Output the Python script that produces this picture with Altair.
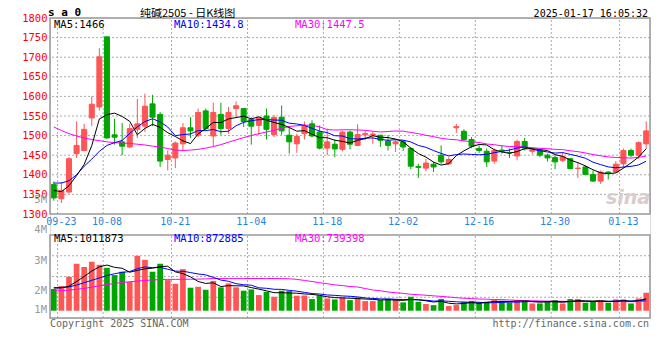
import altair as alt
import pandas as pd

# ---------------- data ----------------
dates = ["09-20", "09-23", "09-24", "09-25", "09-26", "09-27", "09-30",
         "10-08", "10-09", "10-10", "10-11", "10-14", "10-15", "10-16", "10-17", "10-18",
         "10-21", "10-22", "10-23", "10-24", "10-25", "10-28", "10-29", "10-30", "10-31",
         "11-01", "11-04", "11-05", "11-06", "11-07", "11-08", "11-11", "11-12", "11-13",
         "11-14", "11-15", "11-18", "11-19", "11-20", "11-21", "11-22", "11-25", "11-26",
         "11-27", "11-28", "11-29", "12-02", "12-03", "12-04", "12-05", "12-06", "12-09",
         "12-10", "12-11", "12-12", "12-13", "12-16", "12-17", "12-18", "12-19", "12-20",
         "12-23", "12-24", "12-25", "12-26", "12-27", "12-30", "12-31", "01-02", "01-03",
         "01-06", "01-07", "01-08", "01-09", "01-10", "01-13", "01-14", "01-15", "01-16"]

opens = [1375, 1339, 1356, 1454, 1462, 1545, 1573, 1752, 1502, 1484,
         1471, 1516, 1524, 1581, 1554, 1439, 1443, 1479, 1520, 1501,
         1563, 1499, 1554, 1518, 1569, 1569, 1541, 1526, 1550, 1503,
         1547, 1501, 1479, 1505, 1530, 1509, 1468, 1478, 1465, 1509,
         1475, 1502, 1501, 1501, 1486, 1479, 1484, 1467, 1421, 1417,
         1427, 1450, 1428, 1520, 1511, 1490, 1467, 1460, 1435, 1463,
         1457, 1448, 1485, 1460, 1462, 1450, 1444, 1437, 1441, 1416,
         1420, 1401, 1384, 1407, 1407, 1428, 1462, 1450, 1479]
closes = [1341, 1360, 1441, 1475, 1516, 1580, 1701, 1494, 1496, 1473,
          1518, 1530, 1575, 1547, 1435, 1450, 1481, 1520, 1512, 1559,
          1518, 1559, 1518, 1559, 1576, 1536, 1524, 1545, 1516, 1546,
          1512, 1484, 1498, 1524, 1499, 1468, 1484, 1466, 1509, 1478,
          1503, 1505, 1504, 1488, 1475, 1484, 1471, 1422, 1419, 1430,
          1420, 1433, 1439, 1523, 1490, 1473, 1462, 1433, 1462, 1461,
          1456, 1485, 1468, 1463, 1450, 1443, 1433, 1446, 1416, 1417,
          1401, 1384, 1407, 1405, 1427, 1462, 1450, 1482, 1512]
highs = [1383, 1382, 1445, 1536, 1530, 1600, 1723, 1753, 1543, 1532,
         1530, 1594, 1607, 1604, 1560, 1462, 1485, 1532, 1547, 1569,
         1569, 1584, 1584, 1573, 1587, 1569, 1547, 1547, 1569, 1552,
         1577, 1524, 1505, 1536, 1539, 1526, 1518, 1490, 1513, 1513,
         1529, 1513, 1511, 1502, 1501, 1490, 1488, 1471, 1428, 1441,
         1433, 1475, 1445, 1530, 1516, 1496, 1475, 1467, 1467, 1475,
         1467, 1490, 1494, 1470, 1467, 1454, 1450, 1458, 1443, 1433,
         1424, 1411, 1411, 1409, 1435, 1467, 1467, 1485, 1536]
lows = [1334, 1328, 1352, 1443, 1460, 1524, 1564, 1492, 1477, 1450,
        1468, 1494, 1509, 1524, 1420, 1411, 1417, 1462, 1494, 1496,
        1513, 1473, 1502, 1505, 1547, 1522, 1477, 1501, 1490, 1496,
        1502, 1454, 1456, 1490, 1496, 1465, 1450, 1445, 1460, 1465,
        1473, 1488, 1479, 1471, 1462, 1458, 1461, 1414, 1392, 1409,
        1407, 1428, 1426, 1507, 1485, 1468, 1456, 1420, 1428, 1454,
        1443, 1437, 1462, 1452, 1445, 1434, 1414, 1433, 1414, 1392,
        1399, 1382, 1377, 1388, 1405, 1417, 1445, 1441, 1467]

ma5 = [1360, 1357, 1372, 1398,
       1426.6, 1474.4, 1542.6, 1553.2, 1557.4, 1548.8, 1536.4, 1502.2, 1518.4, 1528.6,
       1521.0, 1507.4, 1497.6, 1486.6, 1479.6, 1504.4, 1518.0, 1533.6, 1533.2, 1542.6,
       1546.0, 1549.6, 1542.6, 1548.0, 1539.4, 1533.4, 1528.6, 1520.6, 1511.2, 1512.8,
       1503.4, 1494.6, 1494.6, 1488.2, 1485.2, 1481.0, 1488.0, 1492.2, 1499.8, 1495.6,
       1495.0, 1491.2, 1484.4, 1468.0, 1454.2, 1445.2, 1432.4, 1424.8, 1428.2, 1449.0,
       1461.0, 1471.6, 1477.4, 1476.2, 1464.0, 1458.2, 1454.8, 1459.4, 1466.4, 1466.6,
       1464.4, 1461.8, 1451.4, 1447.0, 1437.6, 1431.0, 1422.6, 1412.8, 1405.0, 1402.8,
       1404.8, 1417.0, 1430.2, 1445.2, 1466.6]
ma10 = [1379, 1379, 1385, 1400, 1422, 1440, 1460, 1475, 1482,
        1487.7, 1505.4, 1522.4, 1535.8, 1543.0, 1534.9, 1521.9, 1499.9, 1502.5, 1504.1,
        1512.7, 1512.7, 1515.6, 1509.9, 1511.1, 1525.2, 1533.8, 1538.1, 1540.6, 1541.0,
        1539.7, 1539.1, 1531.6, 1529.6, 1526.1, 1518.4, 1511.6, 1507.6, 1499.7, 1499.0,
        1492.2, 1491.3, 1493.4, 1494.0, 1490.4, 1488.0, 1489.6, 1488.3, 1483.9, 1474.9,
        1470.1, 1461.8, 1454.6, 1448.1, 1451.6, 1453.1, 1452.0, 1451.1, 1452.2, 1456.5,
        1459.6, 1463.2, 1468.4, 1471.3, 1465.3, 1461.3, 1458.3, 1455.4, 1456.7, 1452.1,
        1447.7, 1442.2, 1432.1, 1426.0, 1420.2, 1417.9, 1419.8, 1421.5, 1425.1, 1434.7]
ma30 = [1522, 1513, 1505, 1499, 1494, 1490, 1487, 1484, 1482, 1481,
        1480, 1478, 1476, 1473, 1471, 1467, 1463, 1462, 1463, 1465,
        1468, 1472, 1477, 1483, 1489, 1495, 1500, 1505, 1509,
        1513.4, 1519.1, 1523.2, 1525.1, 1526.7, 1526.2, 1522.4, 1515.2, 1514.3, 1514.7,
        1514.9, 1514.4, 1513.5, 1511.2, 1509.2, 1510.5, 1511.7, 1511.3, 1508.1, 1505.0,
        1500.7, 1497.4, 1493.2, 1490.6, 1489.4, 1486.5, 1484.4, 1482.3, 1478.6, 1476.8,
        1474.0, 1472.1, 1472.1, 1471.1, 1469.1, 1467.5, 1466.6, 1464.9, 1464.3, 1461.2,
        1459.1, 1455.7, 1451.7, 1448.5, 1445.7, 1444.1, 1443.4, 1442.7, 1444.7, 1447.8]

# volume, millions of lots
vols = [1.82, 2.07, 2.85, 3.94, 3.66, 4.11, 3.85, 3.60, 2.99, 3.27,
        2.43, 4.61, 4.27, 3.27, 3.94, 2.57, 2.26, 3.49, 1.93, 2.01,
        1.76, 2.49, 1.96, 2.29, 1.96, 1.68, 1.79, 1.31, 1.59, 1.17,
        1.68, 1.65, 1.26, 1.28, 0.98, 1.28, 1.03, 0.95, 1.12, 0.89,
        1.12, 0.81, 0.81, 0.89, 0.98, 0.98, 0.70, 1.17, 0.75, 0.56,
        0.47, 0.98, 0.39, 0.47, 0.75, 0.81, 0.70, 0.75, 0.89, 0.81,
        0.70, 0.89, 0.81, 0.61, 0.61, 0.81, 0.89, 0.61, 0.98, 0.98,
        0.67, 0.81, 0.81, 0.67, 0.95, 0.95, 0.61, 1.03, 1.51]
vma5 = [1.90, 1.92, 2.05, 2.45,
        2.87, 3.33, 3.68, 3.83, 3.64, 3.56, 3.23, 3.38, 3.51, 3.57,
        3.70, 3.73, 3.26, 3.11, 2.84, 2.45, 2.29, 2.34, 2.03, 2.10,
        2.09, 2.08, 1.94, 1.81, 1.67, 1.51, 1.51, 1.48, 1.47, 1.41,
        1.37, 1.29, 1.17, 1.10, 1.07, 1.05, 1.02, 0.98, 0.95, 0.90,
        0.92, 0.89, 0.87, 0.94, 0.92, 0.83, 0.73, 0.79, 0.63, 0.57,
        0.61, 0.68, 0.62, 0.70, 0.78, 0.79, 0.77, 0.81, 0.82, 0.76,
        0.72, 0.75, 0.75, 0.71, 0.78, 0.85, 0.83, 0.81, 0.85, 0.79,
        0.78, 0.84, 0.80, 0.84, 1.01]
vma10 = [1.93, 1.94, 2.00, 2.15, 2.35, 2.55, 2.75, 2.95, 3.10,
         3.22, 3.28, 3.53, 3.67, 3.61, 3.63, 3.48, 3.32, 3.31, 3.20,
         3.08, 3.01, 2.80, 2.57, 2.47, 2.27, 2.18, 2.14, 1.92, 1.88,
         1.80, 1.79, 1.71, 1.64, 1.54, 1.44, 1.40, 1.32, 1.29, 1.24,
         1.21, 1.16, 1.07, 1.03, 0.99, 0.99, 0.96, 0.93, 0.95, 0.91,
         0.88, 0.81, 0.83, 0.79, 0.75, 0.72, 0.71, 0.71, 0.66, 0.68,
         0.70, 0.73, 0.72, 0.76, 0.77, 0.76, 0.76, 0.78, 0.76, 0.77,
         0.79, 0.79, 0.78, 0.78, 0.78, 0.82, 0.83, 0.80, 0.85, 0.90]
vma30 = [1.65, 1.69, 1.73, 1.80, 1.87, 1.98, 2.09, 2.19, 2.29, 2.36,
         2.43, 2.48, 2.54, 2.58, 2.61, 2.63, 2.63, 2.64, 2.64, 2.65,
         2.67, 2.70, 2.71, 2.71, 2.71, 2.71, 2.70, 2.70, 2.70,
         2.70, 2.69, 2.68, 2.63, 2.54, 2.45, 2.35, 2.26, 2.17, 2.11,
         2.03, 1.99, 1.86, 1.74, 1.67, 1.57, 1.51, 1.46, 1.38, 1.34,
         1.30, 1.25, 1.20, 1.15, 1.09, 1.05, 1.02, 0.98, 0.97, 0.94,
         0.93, 0.90, 0.87, 0.86, 0.84, 0.82, 0.81, 0.80, 0.79, 0.79,
         0.79, 0.77, 0.77, 0.77, 0.77, 0.77, 0.77, 0.76, 0.76, 0.78]

label_dates = ["09-23", "10-08", "10-21", "11-04", "11-18", "12-02", "12-16", "12-30", "01-13"]
price_ticks = [1300, 1350, 1400, 1450, 1500, 1550, 1600, 1650, 1700, 1750, 1800]
vol_labels = ["5M", "4M", "3M", "2M", "1M"]

for arr in (opens, closes, highs, lows, ma5, ma10, ma30, vols, vma5, vma10, vma30):
    assert len(arr) == len(dates), len(arr)

# ---------------- styling ----------------
RED = "#ff5555"
GREEN = "#00a600"
GRID = "#aaaaaa"
FRAME = "#999999"
MONO = "DejaVu Sans Mono"
W, H = 600, 300
P_LO, P_HI = 1300, 1800
V_LO, V_HI = -0.61, 6.35

df = pd.DataFrame({
    "date": dates, "open": opens, "close": closes, "high": highs, "low": lows,
    "ma5": ma5, "ma10": ma10, "ma30": ma30,
    "vol": vols, "vma5": vma5, "vma10": vma10, "vma30": vma30,
})
df["dir"] = ["up" if c >= o else "down" for o, c in zip(opens, closes)]
df["base"] = 0.0

XS = alt.Scale(domain=dates, paddingInner=0, paddingOuter=0)
XAXIS = alt.Axis(values=label_dates, bandPosition=0, labelColor="#1f86e0", labelFont=MONO,
                 labelFontSize=10, labelAngle=0, domain=False, ticks=False, tickSize=0,
                 grid=False, labelPadding=0, offset=-97, labelBaseline="middle",
                 labelFlush=False, labelOverlap=False, title=None)
X = alt.X("date:O", scale=XS, axis=XAXIS, title=None)
XG = alt.X("date:O", scale=XS, axis=XAXIS, title=None, bandPosition=0)

PY = alt.Scale(domain=[P_LO, P_HI], range=[196, 0], nice=False, zero=False)
PAXIS = alt.Axis(values=price_ticks, format="d", labelColor="#ff0000", labelFont=MONO,
                 labelFontSize=10.5, domain=False, ticks=False, tickSize=0, grid=False,
                 labelPadding=3, labelOverlap=False, labelBound=False, title=None)
VY = alt.Scale(domain=[V_LO, V_HI], range=[300, 217], nice=False, zero=False)

COLOR = alt.Color("dir:N", scale=alt.Scale(domain=["up", "down"], range=[RED, GREEN]), legend=None)

grid_rule = dict(color=GRID, strokeDash=[2, 2], strokeWidth=1)

# ---- price panel ----
p_hgrid = alt.Chart(pd.DataFrame({"p": price_ticks[1:-1]})).mark_rule(**grid_rule).encode(
    y=alt.Y("p:Q", scale=PY, axis=PAXIS))
p_vgrid = alt.Chart(pd.DataFrame({"date": label_dates, "lo": P_LO, "hi": P_HI})).mark_rule(**grid_rule).encode(
    x=XG, y=alt.Y("lo:Q", scale=PY, axis=PAXIS), y2="hi:Q")
wicks = alt.Chart(df).mark_rule(strokeWidth=1).encode(
    x=X, y=alt.Y("low:Q", scale=PY, axis=PAXIS), y2="high:Q", color=COLOR)
bodies = alt.Chart(df).mark_bar(width=alt.RelativeBandSize(0.66), strokeWidth=1).encode(
    x=X, y=alt.Y("open:Q", scale=PY, axis=PAXIS), y2="close:Q", color=COLOR, stroke=COLOR)
l5 = alt.Chart(df).mark_line(color="#000000", strokeWidth=1).encode(
    x=X, y=alt.Y("ma5:Q", scale=PY, axis=PAXIS))
l10 = alt.Chart(df).mark_line(color="#0000ff", strokeWidth=1).encode(
    x=X, y=alt.Y("ma10:Q", scale=PY, axis=PAXIS))
l30 = alt.Chart(df).mark_line(color="#ff00ff", strokeWidth=1).encode(
    x=X, y=alt.Y("ma30:Q", scale=PY, axis=PAXIS))
p_frame = alt.Chart(pd.DataFrame({"lo": [P_LO], "hi": [P_HI]})).mark_rect(
    fillOpacity=0, stroke=FRAME, strokeWidth=1.5).encode(
    x=alt.value(0), x2=alt.value(W), y=alt.Y("lo:Q", scale=PY, axis=PAXIS), y2="hi:Q")
price = alt.layer(p_hgrid, p_vgrid, wicks, bodies, l30, l10, l5, p_frame)

# ---- volume panel ----
vgrid_vals = [V_LO + (V_HI - V_LO) * k / 4 for k in (1, 2, 3)]
v_hgrid = alt.Chart(pd.DataFrame({"v": vgrid_vals})).mark_rule(**grid_rule).encode(
    y=alt.Y("v:Q", scale=VY, axis=None))
v_vgrid = alt.Chart(pd.DataFrame({"date": label_dates, "lo": V_LO, "hi": V_HI})).mark_rule(**grid_rule).encode(
    x=XG, y=alt.Y("lo:Q", scale=VY, axis=None), y2="hi:Q")
vbars = alt.Chart(df).mark_bar(width=alt.RelativeBandSize(0.75)).encode(
    x=X, y=alt.Y("vol:Q", scale=VY, axis=None), y2="base:Q", color=COLOR)
vl5 = alt.Chart(df).mark_line(color="#000000", strokeWidth=1).encode(
    x=X, y=alt.Y("vma5:Q", scale=VY, axis=None))
vl10 = alt.Chart(df).mark_line(color="#0000ff", strokeWidth=1).encode(
    x=X, y=alt.Y("vma10:Q", scale=VY, axis=None))
vl30 = alt.Chart(df).mark_line(color="#ff00ff", strokeWidth=1).encode(
    x=X, y=alt.Y("vma30:Q", scale=VY, axis=None))
v_frame = alt.Chart(pd.DataFrame({"lo": [V_LO], "hi": [V_HI]})).mark_rect(
    fillOpacity=0, stroke=FRAME, strokeWidth=1.5).encode(
    x=alt.value(0), x2=alt.value(W), y=alt.Y("lo:Q", scale=VY, axis=None), y2="hi:Q")
volume = alt.layer(v_hgrid, v_vgrid, vbars, vl30, vl10, vl5, v_frame)


# ---- texts ----
def txt(s, x, y, color="#000000", size=10.5, font=MONO, align="left", baseline="middle",
        weight="normal", style="normal"):
    return alt.Chart(pd.DataFrame({"t": [s]})).mark_text(
        align=align, baseline=baseline, color=color, fontSize=size, font=font,
        fontWeight=weight, fontStyle=style).encode(
        x=alt.value(x), y=alt.value(y), text="t:N")


texts = [
    txt("s a 0", -2, -2, size=11, weight="bold", baseline="alphabetic"),
    txt("纯碱2505 - 日K线图", 90, -10, size=11, font="Noto Sans CJK SC", baseline="top"),
    txt("2025-01-17 16:05:32", 598, -4.5, size=10, align="right"),
    txt("MA5:1466", 4, 6.5),
    txt("MA10:1434.8", 124, 6.5, color="#0000ff"),
    txt("MA30:1447.5", 245, 6.5, color="#ff00ff"),
    txt("MA5:1011873", 4, 220.5),
    txt("MA10:872885", 124, 220.5, color="#0000ff"),
    txt("MA30:739398", 245, 220.5, color="#ff00ff"),
    txt("Copyright 2025 SINA.COM", 0, 305.5, color="#666666", size=10),
    txt("http://finance.sina.com.cn", 599, 305.5, color="#666666", size=10, align="right"),
    txt("sina", 578, 180, color="#d9cccc", size=19, font="DejaVu Sans", weight="bold", style="italic",
        align="center"),
]
for lab, yy in zip(vol_labels, [182, 212, 242.5, 272.5, 292.3]):
    texts.append(txt(lab, -3, yy, color="#999999", align="right"))

chart = alt.layer(price, volume, *texts).resolve_scale(y="independent").properties(
    width=W, height=H,
    padding={"left": 42, "top": 10, "right": 2, "bottom": 34},
    autosize=alt.AutoSizeParams(type="none"),
).configure_view(stroke=None).configure(background="#ffffff")

chart.save("out.html", embed_options={"renderer": "svg", "actions": False})
